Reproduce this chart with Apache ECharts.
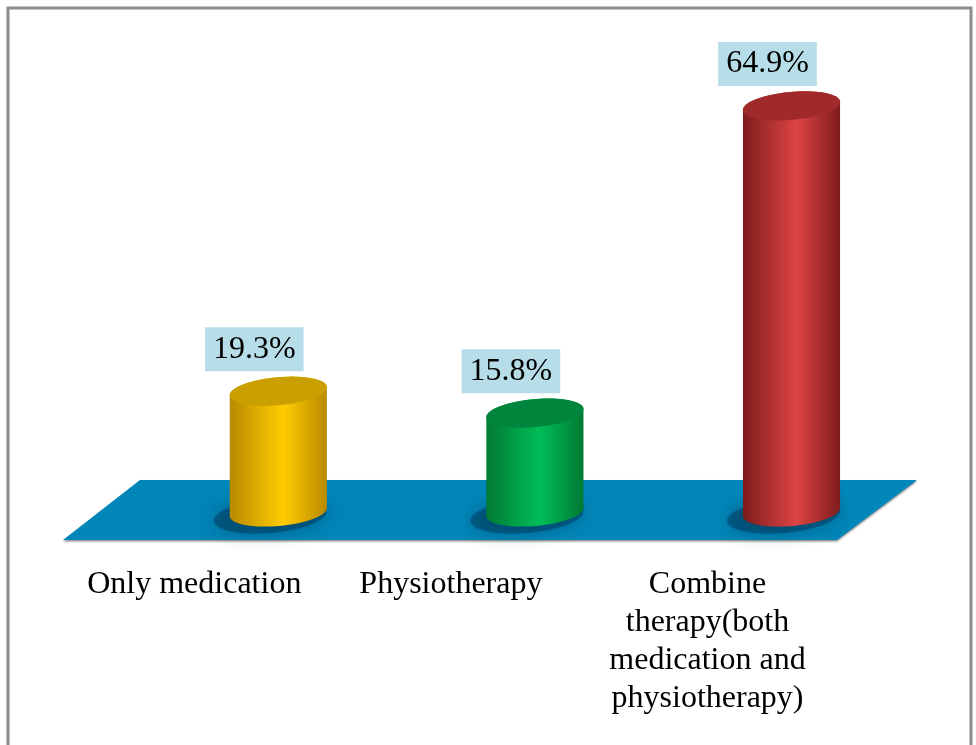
<!DOCTYPE html>
<html>
<head>
<meta charset="utf-8">
<script src="https://cdn.jsdelivr.net/npm/echarts@6/dist/echarts.min.js"></script>
<style>
  html, body { margin: 0; padding: 0; background: #fff; }
  #main { width: 976px; height: 745px; }
</style>
</head>
<body>
<div id="main"></div>
<script>
var categories = ['Only medication', 'Physiotherapy', 'Combine\ntherapy(both\nmedication and\nphysiotherapy)'];
var shares = [19.3, 15.8, 64.9];

// side shade, bright middle, lid colour for each cylinder
var bodyDark = ['#b88a00', '#007a33', '#7e1c1c'];
var bodyLight = ['#ffcc00', '#00bd58', '#dd4444'];
var lidColor = ['#c9a000', '#00863c', '#a02a2a'];

function ellipsePts(cx, cy, rx, ry, rot, t0, t1, n) {
    var pts = [];
    var c = Math.cos(rot), s = Math.sin(rot);
    for (var i = 0; i <= n; i++) {
        var t = t0 + (t1 - t0) * i / n;
        var ex = rx * Math.cos(t), ey = ry * Math.sin(t);
        pts.push([cx + ex * c - ey * s, cy + ex * s + ey * c]);
    }
    return pts;
}

function renderCylinder(params, api) {
    var i = params.dataIndex;
    var top = api.coord([api.value(0), api.value(1)]);
    var base = api.coord([api.value(0), 0]);
    var rx = api.size([1, 0])[0] * 0.19;
    var ry = 14;
    var rot = -0.09;
    var cx = top[0];

    // body: front arc of bottom ellipse left->right, then back arc of lid right->left
    var front = ellipsePts(cx, base[1], rx, ry, rot, Math.PI, 0, 40);
    var lidBack = ellipsePts(cx, top[1], rx, ry, rot, 0, -Math.PI, 40);
    var body = front.concat(lidBack);

    return {
        type: 'group',
        children: [
            {
                type: 'polygon',
                shape: { points: ellipsePts(cx - 8, base[1] + 4, rx + 8, ry + 3, rot, 0, Math.PI * 2, 60) },
                style: { fill: 'rgba(0,40,70,0.4)', shadowBlur: 18, shadowColor: 'rgba(0,40,70,0.9)' }
            },
            {
                type: 'polygon',
                shape: { points: body },
                style: {
                    fill: new echarts.graphic.LinearGradient(0, 0, 1, 0, [
                        { offset: 0, color: bodyDark[i] },
                        { offset: 0.55, color: bodyLight[i] },
                        { offset: 1, color: bodyDark[i] }
                    ])
                }
            },
            {
                type: 'polygon',
                shape: { points: ellipsePts(cx, top[1], rx, ry, rot, 0, Math.PI * 2, 60) },
                style: { fill: lidColor[i] }
            },
            {
                type: 'text',
                x: cx - 24,
                y: top[1] - 42,
                style: {
                    text: api.value(1).toFixed(1) + '%',
                    font: '32px "Liberation Serif"',
                    fill: '#000',
                    align: 'center',
                    verticalAlign: 'middle',
                    backgroundColor: '#b7dee8',
                    padding: [6, 8, 6, 8]
                }
            }
        ]
    };
}

var chart = echarts.init(document.getElementById('main'));
chart.setOption({
    animation: false,
    grid: { left: 150, width: 774, top: 74, height: 438 },
    xAxis: {
        type: 'category',
        data: categories,
        axisLine: { show: false },
        axisTick: { show: false },
        axisLabel: {
            fontFamily: 'Liberation Serif',
            fontSize: 32,
            color: '#000',
            lineHeight: 38,
            margin: 54,
            padding: [0, 168, 0, 0],
            interval: 0
        }
    },
    yAxis: { type: 'value', min: 0, max: 70, show: false },
    graphic: [
        {
            type: 'rect',
            z: 0,
            shape: { x: 8, y: 8, width: 963, height: 780 },
            style: { fill: 'none', stroke: '#8c8c8c', lineWidth: 3 }
        },
        {
            type: 'polygon',
            z: 0,
            shape: { points: [[140, 480], [917, 480], [837, 540], [63, 540]] },
            style: { fill: '#0086b8', shadowColor: 'rgba(0,0,0,0.45)', shadowBlur: 2, shadowOffsetY: 1.5 }
        }
    ],
    series: [{
        type: 'custom',
        renderItem: renderCylinder,
        data: shares.map(function (v, i) { return [i, v]; }),
        z: 5
    }]
});
</script>
</body>
</html>
